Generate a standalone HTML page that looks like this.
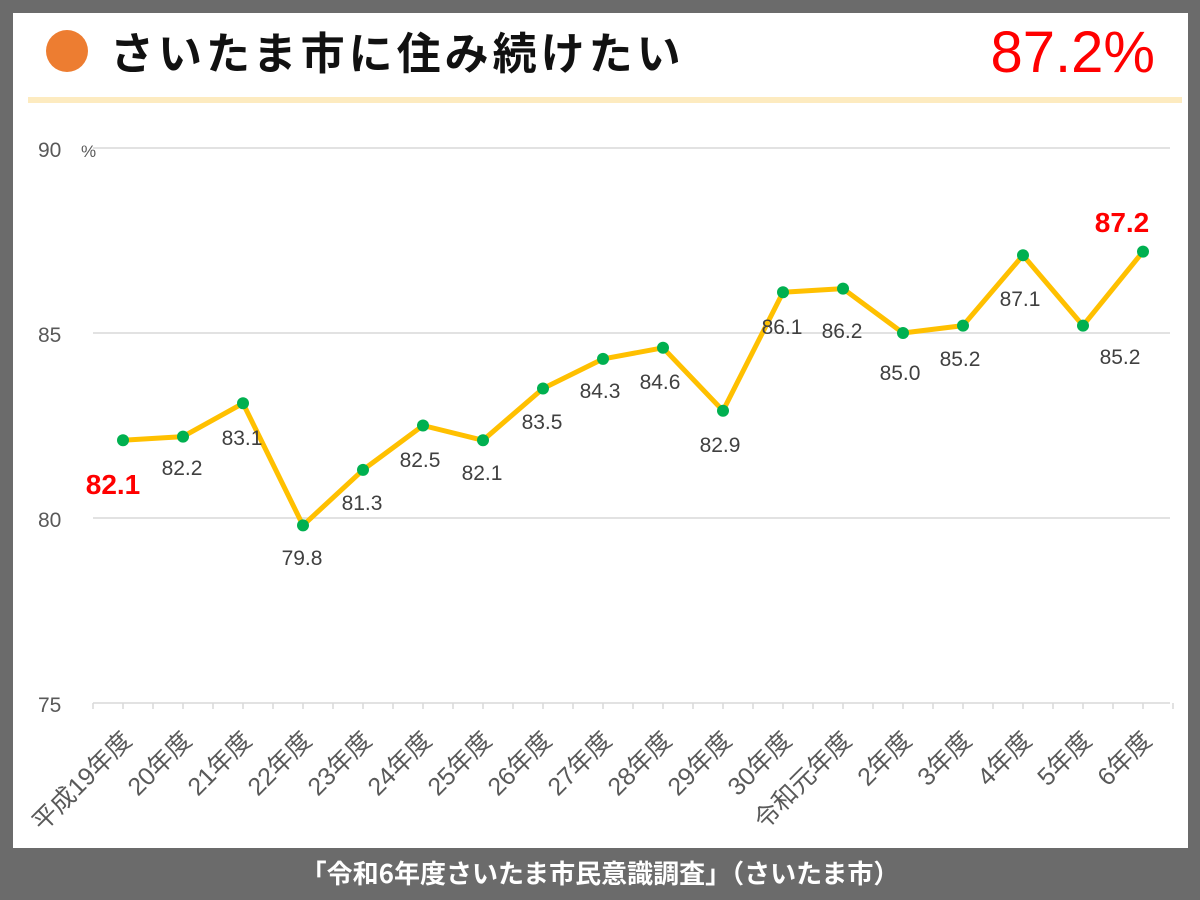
<!DOCTYPE html>
<html><head><meta charset="utf-8"><style>
body{margin:0;width:1200px;height:900px;background:#6b6b6b;overflow:hidden;font-family:"Liberation Sans","Noto Sans CJK JP",sans-serif}
</style></head><body>
<svg width="1200" height="900" xmlns="http://www.w3.org/2000/svg" style="position:absolute;left:0;top:0">
<rect x="13" y="13" width="1175" height="835" fill="#fff"/>
<circle cx="67" cy="51" r="21" fill="#ed7d31"/>
<text x="110" y="69" font-size="44" font-weight="bold" fill="#111" font-family="Noto Sans CJK JP, sans-serif" letter-spacing="4">さいたま市に住み続けたい</text>
<text x="1155" y="72" font-size="58" fill="#f00" text-anchor="end" font-family="Liberation Sans, sans-serif">87.2%</text>
<rect x="28" y="97" width="1154" height="6" fill="#fdebc0"/>
<g stroke="#d9d9d9" stroke-width="1.5">
<line x1="93" y1="148" x2="1170" y2="148"/><line x1="93" y1="333" x2="1170" y2="333"/><line x1="93" y1="518" x2="1170" y2="518"/><line x1="93" y1="703" x2="1170" y2="703"/>
</g>
<g id="ticks" stroke="#d9d9d9" stroke-width="1.5"></g>
<g font-size="21" fill="#595959" font-family="Liberation Sans, sans-serif">
<text x="38" y="157">90</text><text x="81" y="157" font-size="17">%</text>
<text x="38" y="342">85</text><text x="38" y="527">80</text><text x="38" y="712">75</text>
</g>
<g id="xl" font-size="25" fill="#595959" font-family="Liberation Sans, Noto Sans CJK JP, sans-serif"></g>
<polyline id="ln" fill="none" stroke="#ffc000" stroke-width="5" stroke-linejoin="round"/>
<g id="mk" fill="#00b050"></g>
<g font-size="21" fill="#404040" text-anchor="middle" font-family="Liberation Sans, sans-serif">
<text x="113" y="494" fill="#f00" font-weight="bold" font-size="28">82.1</text>
<text x="182" y="475">82.2</text><text x="242" y="445">83.1</text><text x="302" y="565">79.8</text>
<text x="362" y="510">81.3</text><text x="420" y="467">82.5</text><text x="482" y="480">82.1</text>
<text x="542" y="429">83.5</text><text x="600" y="398">84.3</text><text x="660" y="389">84.6</text>
<text x="720" y="452">82.9</text><text x="782" y="334">86.1</text><text x="842" y="338">86.2</text>
<text x="900" y="380">85.0</text><text x="960" y="366">85.2</text><text x="1020" y="306">87.1</text>
<text x="1120" y="364">85.2</text>
<text x="1122" y="232" fill="#f00" font-weight="bold" font-size="28">87.2</text>
</g>
<text x="600" y="883" font-size="26" font-weight="bold" fill="#fff" text-anchor="middle" font-family="Noto Sans CJK JP, sans-serif">「令和6年度さいたま市民意識調査」（さいたま市）</text>
<script>
var d=[82.1,82.2,83.1,79.8,81.3,82.5,82.1,83.5,84.3,84.6,82.9,86.1,86.2,85.0,85.2,87.1,85.2,87.2];
var L=["平成19年度","20年度","21年度","22年度","23年度","24年度","25年度","26年度","27年度","28年度","29年度","30年度","令和元年度","2年度","3年度","4年度","5年度","6年度"];
var ns="http://www.w3.org/2000/svg",pts=[],mk=document.getElementById('mk'),xl=document.getElementById('xl'),tk=document.getElementById('ticks');
for(var i=0;i<=36;i++){var l=document.createElementNS(ns,'line');var x=93+i*30;l.setAttribute('x1',x);l.setAttribute('x2',x);l.setAttribute('y1',703);l.setAttribute('y2',709);tk.appendChild(l);}
d.forEach(function(v,i){var x=123+60*i,y=148+(90-v)*37;pts.push(x+','+y);
var c=document.createElementNS(ns,'circle');c.setAttribute('cx',x);c.setAttribute('cy',y);c.setAttribute('r',6);mk.appendChild(c);
var t=document.createElementNS(ns,'text');t.setAttribute('text-anchor','end');t.setAttribute('transform','translate('+(x+10)+',742) rotate(-45)');t.textContent=L[i];xl.appendChild(t);});
document.getElementById('ln').setAttribute('points',pts.join(' '));
</script>
</svg>
</body></html>
